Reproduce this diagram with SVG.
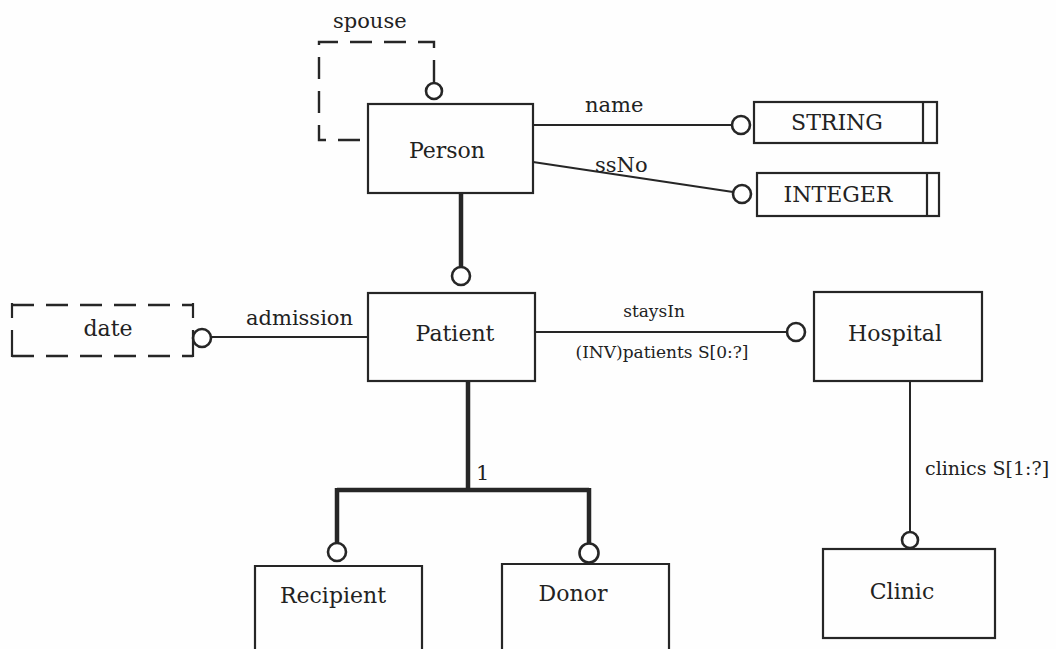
<svg xmlns="http://www.w3.org/2000/svg" width="1056" height="649" viewBox="0 0 1056 649">
  <style>
    .box { fill: none; stroke: #262626; stroke-width: 2.2; }
    .line { fill: none; stroke: #262626; stroke-width: 2; }
    .thick { fill: none; stroke: #262626; stroke-width: 4.5; }
    .dash { fill: none; stroke: #262626; stroke-width: 2.4; stroke-dasharray: 22 12; }
    .ring { fill: #ffffff; stroke: #262626; stroke-width: 2.6; }
    text { font-family: "DejaVu Serif", "Liberation Serif", serif; fill: #222222; }
    .name { font-size: 22px; text-anchor: middle; }
    .lbl { font-size: 21px; }
    .small { font-size: 17px; }
  </style>
  <rect width="1056" height="649" fill="#fefefe"/>

  <!-- relationships and attributes -->
  <g id="connectors">
    <!-- spouse: Person to Person -->
    <path class="dash" d="M434 82 V42 H319 V140 H368"/>
    <circle class="ring" cx="434" cy="91" r="8"/>
    <text class="lbl" x="333" y="28">spouse</text>

    <!-- name -> STRING -->
    <path class="line" d="M533 125 H732"/>
    <circle class="ring" cx="741" cy="125" r="9"/>
    <text class="lbl" x="585" y="112">name</text>

    <!-- ssNo -> INTEGER -->
    <path class="line" d="M533 162 L733 192"/>
    <circle class="ring" cx="742" cy="194" r="9"/>
    <text class="lbl" x="595" y="172">ssNo</text>

    <!-- Person is-a Patient -->
    <path class="thick" d="M461 193 V267"/>
    <circle class="ring" cx="461" cy="276" r="9"/>

    <!-- admission -> date -->
    <path class="line" d="M211 337 H368"/>
    <circle class="ring" cx="202" cy="338" r="9"/>
    <text class="lbl" x="246" y="325">admission</text>

    <!-- staysIn -> Hospital -->
    <path class="line" d="M535 332 H787"/>
    <circle class="ring" cx="796" cy="332" r="9"/>
    <text class="small" x="654" y="317" text-anchor="middle">staysIn</text>
    <text class="small" x="662" y="358" text-anchor="middle">(INV)patients S[0:?]</text>

    <!-- clinics -> Clinic -->
    <path class="line" d="M910 381 V532"/>
    <circle class="ring" cx="910" cy="540" r="8"/>
    <text x="925" y="475" font-size="19">clinics S[1:?]</text>

    <!-- Patient subtypes -->
    <path class="thick" d="M468 381 V490 M337 490 H589 M337 488 V543 M589 488 V543"/>
    <circle class="ring" cx="337" cy="552" r="9"/>
    <circle class="ring" cx="589" cy="553" r="9.5"/>
    <text class="lbl" x="476" y="480">1</text>
  </g>

  <g id="person">
    <rect class="box" x="368" y="104" width="165" height="89"/>
    <text class="name" x="447" y="158">Person</text>
  </g>

  <g id="string">
    <rect class="box" x="754" y="102" width="183" height="41"/>
    <path class="box" d="M923 102 V143"/>
    <text class="name" x="837" y="130">STRING</text>
  </g>

  <g id="integer">
    <rect class="box" x="757" y="173" width="182" height="43"/>
    <path class="box" d="M927 173 V216"/>
    <text class="name" x="838" y="202">INTEGER</text>
  </g>

  <g id="date">
    <path class="dash" d="M12 305 H193 M12 356 H193"/>
    <path class="box" d="M12 303 V318 M12 330 V357 M193 303 V318 M193 330 V357"/>
    <text class="name" x="108" y="336">date</text>
  </g>

  <g id="patient">
    <rect class="box" x="368" y="293" width="167" height="88"/>
    <text class="name" x="455" y="341">Patient</text>
  </g>

  <g id="hospital">
    <rect class="box" x="814" y="292" width="168" height="89"/>
    <text class="name" x="895" y="341">Hospital</text>
  </g>

  <g id="clinic">
    <rect class="box" x="823" y="549" width="172" height="89"/>
    <text class="name" x="902" y="599">Clinic</text>
  </g>

  <g id="recipient">
    <path class="box" d="M255 652 V566 H422 V652"/>
    <text class="name" x="333" y="603">Recipient</text>
  </g>

  <g id="donor">
    <path class="box" d="M502 652 V564 H669 V652"/>
    <text class="name" x="573" y="601">Donor</text>
  </g>
</svg>
